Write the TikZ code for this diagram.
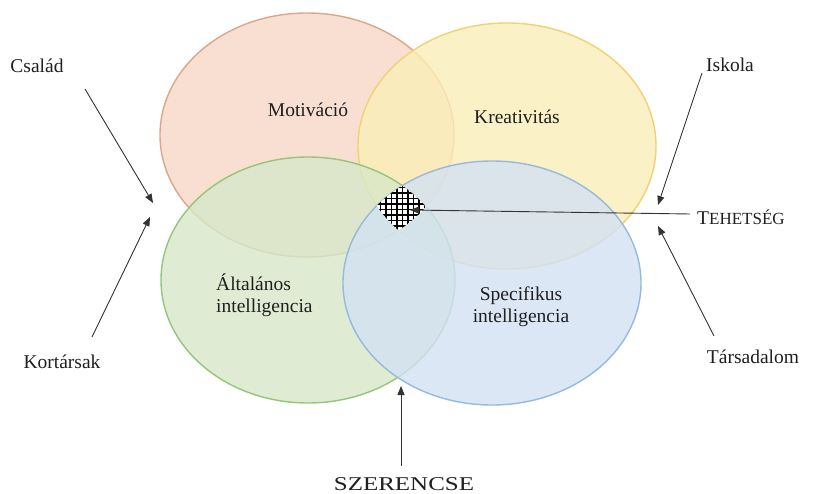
\documentclass[tikz,border=0pt]{standalone}
\usepackage{fontspec}
\setmainfont{Liberation Serif}
\usetikzlibrary{arrows.meta}
\definecolor{redfill}{RGB}{247,216,199}
\definecolor{yelfill}{RGB}{251,238,184}
\definecolor{grnfill}{RGB}{215,232,200}
\definecolor{blufill}{RGB}{210,225,243}
\definecolor{redline}{RGB}{222,165,135}
\definecolor{yelline}{RGB}{240,210,115}
\definecolor{grnline}{RGB}{150,196,122}
\definecolor{bluline}{RGB}{150,185,220}
\tikzset{
  set/.style={line width=1.4pt, fill opacity=0.8, draw opacity=1},
  lbl/.style={font=\fontsize{19.5}{22}\selectfont, inner sep=0pt, text=black!88},
  arr/.style={line width=0.9pt, draw=black!80, -{Triangle[length=9pt,width=7pt]}},
  hatch/.style={line width=1.2pt, draw=black}
}
\begin{document}
\begin{tikzpicture}[x=1pt,y=-1pt]
\useasboundingbox (0,0) rectangle (813,494);
\fill[white] (0,0) rectangle (813,494);
% sets
\draw[set, draw=redline, fill=redfill] (307,135) ellipse [x radius=147, y radius=122];
\draw[set, draw=yelline, fill=yelfill] (507,146) ellipse [x radius=149, y radius=123];
\draw[set, draw=grnline, fill=grnfill] (308,280) ellipse [x radius=147, y radius=123];
\draw[set, draw=bluline, fill=blufill] (492,283) ellipse [x radius=149, y radius=122];
% hatched common region
\begin{scope}
  \clip (307,135) ellipse [x radius=147, y radius=122];
  \clip (507,146) ellipse [x radius=149, y radius=123];
  \clip (308,280) ellipse [x radius=147, y radius=123];
  \clip (492,283) ellipse [x radius=149, y radius=122];
  \fill[white] (370,180) rectangle (430,235);
  \foreach \i in {0,...,10} {
    \draw[hatch] (375+5.5*\i,180) -- (375+5.5*\i,235);
    \draw[hatch] (370,182+5.5*\i) -- (430,182+5.5*\i);
  }
\end{scope}
% labels
\node[lbl] (mot) at (308,110) {Motiváció};
\node[lbl] (kre) at (517,117) {Kreativitás};
\node[lbl, align=left, anchor=west] (alt) at (216,295) {Általános\\intelligencia};
\node[lbl, align=center] (spe) at (521,307) {Specifikus\\intelligencia};
\node[lbl] (csa) at (37,66) {Család};
\node[lbl] (isk) at (730,65) {Iskola};
\node[lbl] (kor) at (62,362) {Kortársak};
\node[lbl] (tar) at (753,357) {Társadalom};
\node[lbl, anchor=west] (teh) at (697,217) {T{\fontsize{17}{17}\selectfont EHETSÉG}};
\node[lbl] (sze) at (404,484) {\scalebox{1.28}[1]{SZERENCSE}};
% arrow ends
\coordinate (csaS) at (85,89);
\coordinate (csaT) at (153,203);
\coordinate (korS) at (92,337);
\coordinate (korT) at (150,217);
\coordinate (iskS) at (702,73);
\coordinate (iskT) at (658,205);
\coordinate (tarS) at (714,336);
\coordinate (tarT) at (658,226);
\coordinate (tehS) at (690,214);
\coordinate (tehT) at (410,210);
\coordinate (szeS) at (401,466);
\coordinate (szeT) at (401,386);
\draw[arr] (csaS) -- (csaT);
\draw[arr] (korS) -- (korT);
\draw[arr] (iskS) -- (iskT);
\draw[arr] (tarS) -- (tarT);
\draw[arr] (tehS) -- (tehT);
\draw[arr] (szeS) -- (szeT);
\end{tikzpicture}
\end{document}
